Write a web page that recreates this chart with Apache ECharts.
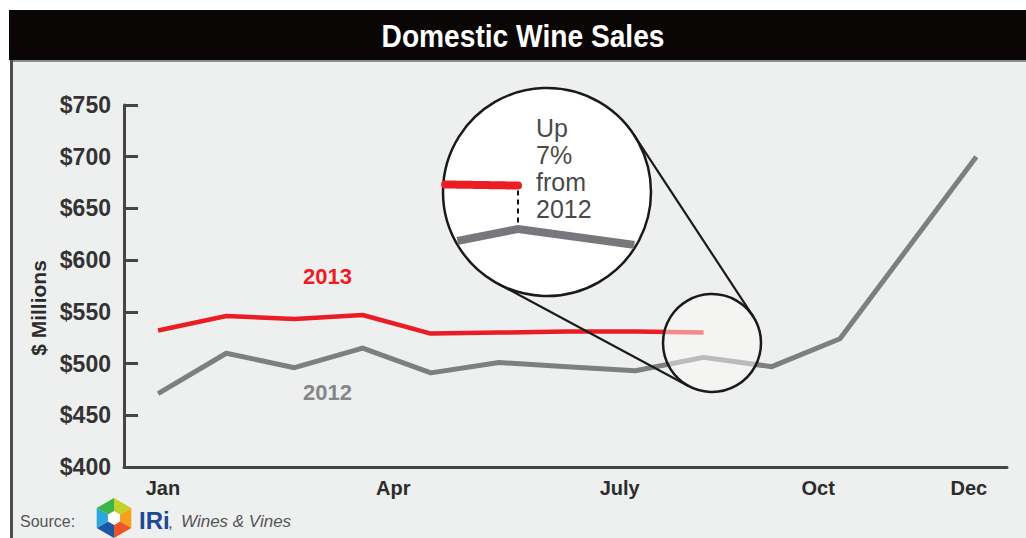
<!DOCTYPE html>
<html><head><meta charset="utf-8">
<script src="https://cdn.jsdelivr.net/npm/echarts@6/dist/echarts.min.js"></script>
<style>html,body{margin:0;padding:0;background:#fff}#c{width:1026px;height:538px}</style>
</head><body><div id="c"></div>
<script>
// ---- data ----
const periods = [0,1,2,3,4,5,6,7,8,9,10,11,12];           // 4-week periods
const sales2012 = [471, 510, 496, 515, 491, 501, 497, 493, 506, 497, 524, 612, 700];
const sales2013 = [532, 546, 543, 547, 529, 530, 531, 531, 530];
const monthLabels = ['Jan','Apr','July','Oct','Dec'];
const monthPos = [0.07, 3.45, 6.77, 9.68, 11.89];
const yMin = 400, yMax = 750, yStep = 50;
const titleText = 'Domestic Wine Sales';
const yName = '$ Millions';
const noteText = ['Up','7%','from','2012'];
const label2012 = '2012', label2013 = '2013';

const FONT = '"Liberation Sans", Arial, sans-serif';

const chart = echarts.init(document.getElementById('c'), null, {renderer:'svg'});
chart.setOption({
  backgroundColor:'#ffffff',
  animation:false,
  grid:{left:124, right:19, top:105, bottom:71, containLabel:false},
  xAxis:{
    type:'value', min:-0.5, max:12.45,
    splitLine:{show:false},
    axisLine:{show:true, onZero:false, lineStyle:{color:'#454545', width:3}},
    axisTick:{show:false},
    axisLabel:{
      customValues: monthPos,
      formatter:function(v){
        let best=0, d=1e9;
        monthPos.forEach((p,i)=>{ if(Math.abs(p-v)<d){d=Math.abs(p-v);best=i;} });
        return monthLabels[best];
      },
      margin:11, fontSize:20, fontWeight:'bold', color:'#2c2c2c', fontFamily:FONT
    }
  },
  yAxis:{
    type:'value', min:yMin, max:yMax, interval:yStep,
    splitLine:{show:false},
    axisLine:{show:true, onZero:false, lineStyle:{color:'#454545', width:3}},
    axisTick:{show:true, inside:true, length:14, lineStyle:{color:'#454545', width:3}},
    axisLabel:{formatter:'${value}', margin:13, fontSize:23, fontWeight:'bold', color:'#333', fontFamily:FONT}
  },
  series:[
    {type:'line', name:label2012, data: periods.map((p,i)=>[p, sales2012[i]]),
     symbol:'none', lineStyle:{color:'#7e7f82', width:5, join:'round'}, z:3},
    {type:'line', name:label2013, data: sales2013.map((v,i)=>[periods[i], v]),
     symbol:'none', lineStyle:{color:'#ec1c24', width:4.5, join:'round'}, z:4}
  ]
});

// ---- annotation graphics ----
const toPx = (p,v) => chart.convertToPixel({gridIndex:0}, [p,v]);
const BIG = {cx:547, cy:192, r:104};
const SMALL = {cx:712, cy:343, r:49};
const K = 1.75;
const anchor = toPx(periods[8], sales2012[8]);
const anchorInset = [518, 229];
const mapInset = P => [anchorInset[0] + (P[0]-anchor[0])*K, anchorInset[1] + (P[1]-anchor[1])*K];

function clipRuns(pts, c, R){
  const runs=[]; let cur=null;
  const inside = q => (q[0]-c.cx)*(q[0]-c.cx)+(q[1]-c.cy)*(q[1]-c.cy) <= R*R;
  for(let i=0;i<pts.length-1;i++){
    const a=pts[i], b=pts[i+1];
    const len=Math.hypot(b[0]-a[0], b[1]-a[1]);
    const n=Math.max(2, Math.ceil(len/0.5));
    for(let j=(i===0?0:1); j<=n; j++){
      const t=j/n, q=[a[0]+(b[0]-a[0])*t, a[1]+(b[1]-a[1])*t];
      if(inside(q)){ if(!cur){cur=[];runs.push(cur);} cur.push(q); }
      else cur=null;
    }
  }
  return runs.filter(r=>r.length>1);
}

function tangents(c1, c2){
  const dx=c2.cx-c1.cx, dy=c2.cy-c1.cy, d=Math.hypot(dx,dy);
  const ux=dx/d, uy=dy/d, px=-uy, py=ux;
  const cs=(c1.r-c2.r)/d, sn=Math.sqrt(1-cs*cs);
  return [1,-1].map(s=>{
    const nx=ux*cs+s*px*sn, ny=uy*cs+s*py*sn;
    return {x1:c1.cx+c1.r*nx, y1:c1.cy+c1.r*ny, x2:c2.cx+c2.r*nx, y2:c2.cy+c2.r*ny};
  });
}

const g = [];
// backgrounds
g.push({type:'rect', z:-10, shape:{x:9,y:10,width:1017,height:50}, style:{fill:'#0b0606'}});
g.push({type:'rect', z:-10, shape:{x:10,y:60,width:1016,height:2}, style:{fill:'#8a8a8a'}});
g.push({type:'rect', z:-10, shape:{x:10,y:62,width:1016,height:476}, style:{fill:'#eef0ef'}});
g.push({type:'rect', z:-9, shape:{x:10,y:60,width:3,height:478}, style:{fill:'#4d4d4d'}});
g.push({type:'text', z:5, x:523, y:36, scaleX:0.88, style:{text:titleText, fill:'#ffffff', font:'bold 32px '+FONT, textAlign:'center', textVerticalAlign:'middle', align:'center', verticalAlign:'middle'}});
g.push({type:'text', z:5, x:38, y:308, rotation:Math.PI/2, style:{text:yName, fill:'#2c2c2c', font:'bold 21px '+FONT, textAlign:'center', textVerticalAlign:'middle', align:'center', verticalAlign:'middle'}});
// series labels
g.push({type:'text', z:5, x:303, y:276, style:{text:label2013, fill:'#ec1c24', font:'bold 22px '+FONT, textAlign:'left', textVerticalAlign:'middle', align:'left', verticalAlign:'middle'}});
g.push({type:'text', z:5, x:303, y:392, style:{text:label2012, fill:'#85868a', font:'bold 22px '+FONT, textAlign:'left', textVerticalAlign:'middle', align:'left', verticalAlign:'middle'}});
// magnifier
g.push({type:'circle', z:20, shape:{cx:SMALL.cx, cy:SMALL.cy, r:SMALL.r}, style:{fill:'rgba(250,248,245,0.5)', stroke:'#1a1a1a', lineWidth:2.5}});
g.push({type:'circle', z:20, shape:{cx:BIG.cx, cy:BIG.cy, r:BIG.r}, style:{fill:'#ffffff', stroke:'#1a1a1a', lineWidth:2.5}});
tangents(BIG, SMALL).forEach(t=>g.push({type:'line', z:21, shape:t, style:{stroke:'#1a1a1a', lineWidth:2.2}}));
const gray2012 = periods.map((p,i)=>mapInset(toPx(p, sales2012[i])));
const red2013 = sales2013.map((v,i)=>mapInset(toPx(periods[i], v)));
clipRuns(gray2012, BIG, BIG.r-1.5).forEach(r=>g.push({type:'polyline', z:22, shape:{points:r}, style:{stroke:'#77787b', lineWidth:8, fill:null, lineJoin:'round'}}));
clipRuns(red2013, BIG, BIG.r-1.5).forEach(r=>g.push({type:'polyline', z:23, shape:{points:r}, style:{stroke:'#ec1c24', lineWidth:8, fill:null, lineJoin:'round', lineCap:'round'}}));
const rEnd = red2013[red2013.length-1], gPk = gray2012[8];
g.push({type:'line', z:24, shape:{x1:gPk[0], y1:rEnd[1]+5, x2:gPk[0], y2:gPk[1]-4}, style:{stroke:'#111', lineWidth:2, lineDash:[5,4]}});
g.push({type:'text', z:25, x:536, y:114, style:{text:noteText.join('\n'), fill:'#4a4a4a', font:'25px '+FONT, lineHeight:27, textAlign:'left', textVerticalAlign:'top', align:'left', verticalAlign:'top'}});
// source line
g.push({type:'text', z:5, x:20, y:521, style:{text:'Source:', fill:'#555', font:'16px '+FONT, textAlign:'left', textVerticalAlign:'middle', align:'left', verticalAlign:'middle'}});
const LC = [114, 518], LR = 20;
const hexPt = a => [LC[0]+LR*Math.cos(a*Math.PI/180), LC[1]+LR*Math.sin(a*Math.PI/180)];
const logoColors = ['#c3d22b','#f6a01c','#ec5625','#1c57a5','#2aa7df','#3bb44a'];
[-90,-30,30,90,150,210].forEach((a,i)=>{
  g.push({type:'polygon', z:5, shape:{points:[LC, hexPt(a), hexPt(a+60)]}, style:{fill:logoColors[i]}});
});
g.push({type:'polygon', z:6, shape:{points:[-90,-30,30,90,150,210].map(a=>[LC[0]+7*Math.cos(a*Math.PI/180), LC[1]+7*Math.sin(a*Math.PI/180)])}, style:{fill:'#ffffff'}});
g.push({type:'text', z:5, x:139, y:520, style:{text:'IRi', fill:'#1c4a96', font:'bold 24px '+FONT, textAlign:'left', textVerticalAlign:'middle', align:'left', verticalAlign:'middle'}});
g.push({type:'text', z:5, x:168, y:522, style:{text:',', fill:'#555', font:'17px '+FONT, textAlign:'left', textVerticalAlign:'middle', align:'left', verticalAlign:'middle'}});
g.push({type:'text', z:5, x:181, y:521, style:{text:'Wines & Vines', fill:'#555', font:'italic 17px '+FONT, textAlign:'left', textVerticalAlign:'middle', align:'left', verticalAlign:'middle'}});

chart.setOption({graphic:{elements:g}});
</script></body></html>
